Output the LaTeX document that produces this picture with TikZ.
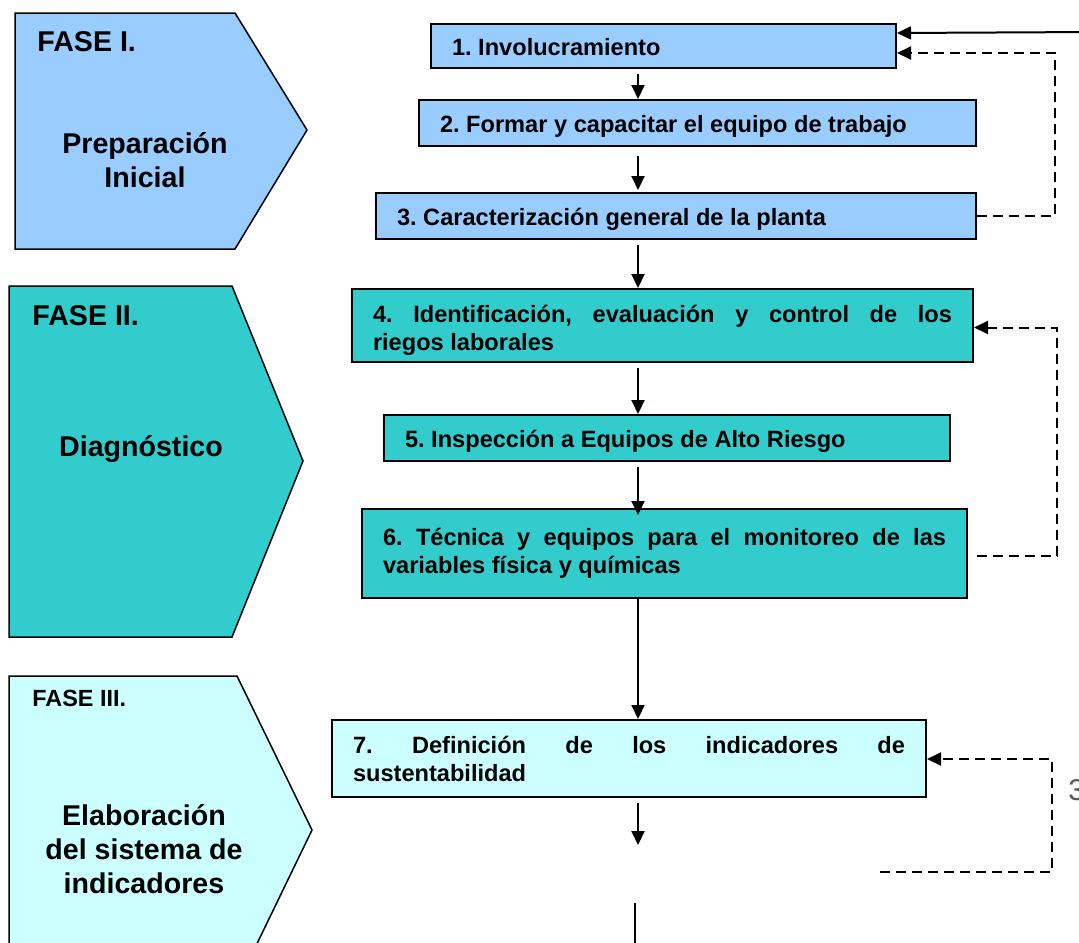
\documentclass[tikz,border=0pt]{standalone}
\usepackage{fontspec}
\setmainfont{Liberation Sans}
\usetikzlibrary{arrows.meta,calc}
\frenchspacing

\definecolor{faseuno}{HTML}{99CCFF}
\definecolor{fasedos}{HTML}{33CCCC}
\definecolor{fasetres}{HTML}{CCFFFF}

\begin{document}
\begin{tikzpicture}[x=0.5pt,y=-0.5pt,>={Triangle[length=7pt,width=6.5pt]},
  paso/.style={draw,line width=1pt,anchor=north west,align=justify,inner xsep=10.5pt,
    inner ysep=0pt,font=\bfseries\fontsize{11.8}{14}\selectfont},
  linea/.style={text height=12pt,text depth=2.5pt},
  fase/.style={anchor=west,inner sep=0pt,font=\bfseries\fontsize{14.3}{17}\selectfont},
  titulo/.style={align=center,inner sep=0pt,font=\bfseries\fontsize{14.3}{17}\selectfont},
  flujo/.style={->,line width=1pt,shorten <=2.5pt},
  retorno/.style={->,line width=1pt,dash pattern=on 5pt off 3pt}]

  \clip (0,0) rectangle (1079,942);

  % fases
  \draw[fill=faseuno,line width=0.75pt] (15,13) -- (235,13) -- (307,130) -- (235,249) -- (15,249) -- cycle;
  \draw[fill=fasedos,line width=0.75pt] (9,286) -- (232,286) -- (303,461) -- (232,637) -- (9,637) -- cycle;
  \draw[fill=fasetres,line width=0.75pt] (9,676) -- (237,676) -- (312,830) -- (237,985) -- (9,985) -- cycle;

  \node[fase] (f1) at (37,42) {FASE I.};
  \node[fase] (f2) at (32,316) {FASE II.};
  \node[fase,font=\bfseries\fontsize{11.7}{14}\selectfont] (f3) at (32,698) {FASE III.};
  \node[titulo] (t1) at (145,160) {Preparación\\Inicial};
  \node[titulo] (t2) at (141,449) {Diagnóstico};
  \node[titulo] (t3) at (144,849) {Elaboración\\del sistema de\\indicadores};

  % pasos
  \node[paso,linea,fill=faseuno,text width=211.5pt,minimum height=22pt] (b1) at (430,23) {1. Involucramiento};
  \node[paso,linea,fill=faseuno,text width=257.5pt,minimum height=23pt] (b2) at (418,99) {2. Formar y capacitar el equipo de trabajo};
  \node[paso,linea,fill=faseuno,text width=279pt,minimum height=23pt] (b3) at (375,192) {3. Caracterización general de la planta};
  \node[paso,fill=fasedos,text width=289.5pt,minimum height=36.5pt,text depth=12pt] (b4) at (351,288)
    {4. Identificación, evaluación y control de los\linebreak riegos laborales};
  \node[paso,linea,fill=fasedos,text width=262pt,minimum height=23pt] (b5) at (383,414) {5. Inspección a Equipos de Alto Riesgo};
  \node[paso,fill=fasedos,text width=281.5pt,minimum height=44.5pt] (b6) at (361,508)
    {6. Técnica y equipos para el monitoreo de las\linebreak variables física y químicas};
  \node[paso,fill=fasetres,text width=276pt,minimum height=38.5pt] (b7) at (331,719)
    {7. Definición de los indicadores de\linebreak sustentabilidad};

  \node[anchor=west,inner sep=0pt,text=gray!70!black,font=\fontsize{15}{18}\selectfont] (num) at (1068,790) {3};

  \coordinate (eje) at (638,0);
  \coordinate (entrada) at (1095,32);
  \coordinate (fin7) at (638,845);
  \coordinate (sigue) at (635,903);
  \coordinate (vuelta) at (880,872);

  % secuencia
  \draw[flujo] (b1.south -| eje) -- (b2.north -| eje);
  \draw[flujo,shorten <=4.5pt,shorten >=1pt] (b2.south -| eje) -- (b3.north -| eje);
  \draw[flujo] (b3.south -| eje) -- (b4.north -| eje);
  \draw[flujo] (b4.south -| eje) -- (b5.north -| eje);
  \draw[flujo,shorten >=-3.5pt] (b5.south -| eje) -- (b6.north -| eje);
  \draw[flujo,shorten <=0pt] (b6.south -| eje) -- (b7.north -| eje);
  \draw[flujo] (b7.south -| eje) -- (fin7);
  \draw[line width=1pt] (sigue) -- ++(0,60);

  % retroalimentacion
  \draw[->,line width=1pt] (entrada) -- ($(b1.east)+(0,-13)$);
  \draw[retorno] (b3.east) -- ++(78,0) |- ($(b1.east)+(0,7)$);
  \draw[retorno] ($(b6.east)+(9,2)$) -- ++(80,0) |- ($(b4.east)+(0,2)$);
  \draw[retorno] (vuelta) -- ++(172,0) |- ($(b7.east)+(0,0.5)$);

\end{tikzpicture}
\end{document}
